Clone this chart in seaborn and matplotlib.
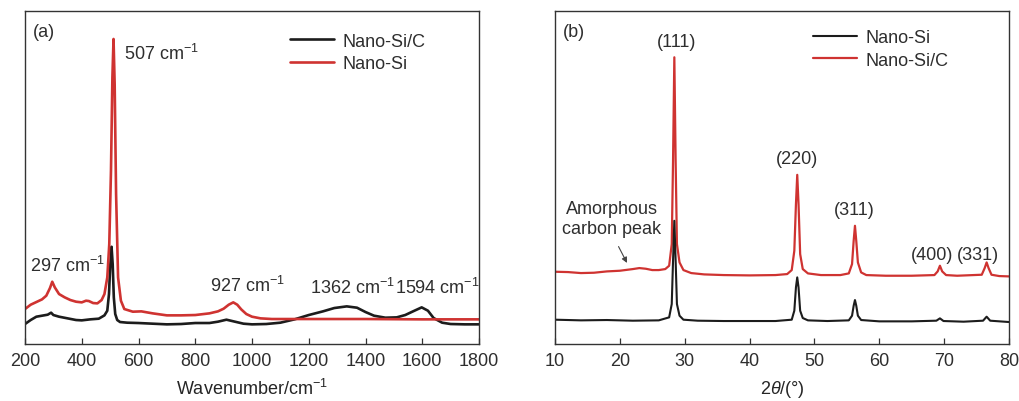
import matplotlib
matplotlib.use("Agg")
import matplotlib.pyplot as plt
import seaborn as sns

# (a) Raman spectra, arbitrary intensity units
raman_si_x = [200, 220, 240, 260, 275, 288, 296, 305, 320, 340, 360, 380, 400, 415, 425, 440, 455,
              470, 480, 490, 497, 503, 508, 512, 516, 521, 528, 538, 550, 580, 610, 650, 700, 750,
              800, 850, 880, 900, 918, 934, 948, 962, 980, 1000, 1030, 1070, 1100, 1200, 1400, 1600, 1800]
raman_si_y = [0.105, 0.118, 0.126, 0.134, 0.145, 0.168, 0.187, 0.170, 0.150, 0.140, 0.132, 0.127,
              0.125, 0.130, 0.129, 0.123, 0.122, 0.132, 0.150, 0.200, 0.300, 0.520, 0.800, 0.916,
              0.780, 0.450, 0.200, 0.130, 0.105, 0.097, 0.098, 0.092, 0.086, 0.086, 0.087, 0.092,
              0.098, 0.106, 0.118, 0.125, 0.118, 0.104, 0.090, 0.082, 0.077, 0.075, 0.075, 0.075,
              0.075, 0.074, 0.074]

raman_sic_x = [200, 220, 240, 260, 280, 292, 300, 320, 350, 380, 400, 430, 460, 480, 490, 496, 500,
               505, 509, 513, 518, 525, 535, 560, 600, 650, 700, 750, 800, 850, 880, 910, 940, 970,
               1000, 1050, 1100, 1150, 1200, 1250, 1290, 1334, 1370, 1400, 1430, 1470, 1510, 1540,
               1570, 1598, 1620, 1640, 1670, 1700, 1750, 1800]
raman_sic_y = [0.060, 0.072, 0.082, 0.085, 0.088, 0.094, 0.087, 0.082, 0.077, 0.072, 0.071, 0.074,
               0.076, 0.086, 0.100, 0.150, 0.230, 0.292, 0.240, 0.140, 0.090, 0.072, 0.066, 0.064,
               0.063, 0.061, 0.059, 0.060, 0.063, 0.063, 0.067, 0.073, 0.067, 0.061, 0.059, 0.060,
               0.064, 0.074, 0.087, 0.098, 0.108, 0.113, 0.109, 0.096, 0.085, 0.079, 0.080, 0.087,
               0.099, 0.110, 0.100, 0.078, 0.064, 0.060, 0.059, 0.059]

raman_labels = ["507 cm$^{-1}$", "297 cm$^{-1}$", "927 cm$^{-1}$", "1362 cm$^{-1}$", "1594 cm$^{-1}$"]
raman_label_x = [550, 218, 853, 1203, 1503]
raman_label_y = [0.875, 0.238, 0.176, 0.170, 0.170]

# (b) XRD patterns
xrd_sic_x = [10, 12, 14, 16, 18, 20, 22, 23, 24, 25, 26, 27, 27.6, 28.0, 28.2, 28.4, 28.6, 28.8,
             29.2, 29.8, 31, 33, 36, 40, 44, 45.8, 46.5, 46.9, 47.15, 47.35, 47.55, 47.8, 48.2, 49,
             51, 54, 55.3, 55.8, 56.05, 56.25, 56.45, 56.7, 57.2, 58, 61, 65, 68.5, 69.0, 69.35,
             69.7, 70.3, 72, 75.8, 76.25, 76.55, 76.85, 77.3, 78.5, 80]
xrd_sic_y = [0.217, 0.216, 0.213, 0.214, 0.218, 0.220, 0.225, 0.228, 0.226, 0.222, 0.222, 0.225,
             0.235, 0.300, 0.550, 0.861, 0.550, 0.300, 0.245, 0.222, 0.213, 0.209, 0.207, 0.206,
             0.207, 0.210, 0.222, 0.280, 0.420, 0.508, 0.420, 0.270, 0.225, 0.212, 0.207, 0.207,
             0.212, 0.240, 0.310, 0.355, 0.310, 0.245, 0.215, 0.207, 0.205, 0.205, 0.207, 0.218,
             0.235, 0.218, 0.207, 0.205, 0.208, 0.228, 0.245, 0.228, 0.208, 0.204, 0.203]

xrd_si_x = [10, 14, 18, 22, 26, 27.6, 28.0, 28.2, 28.4, 28.6, 28.8, 29.2, 29.8, 32, 36, 40, 44,
            46.5, 46.9, 47.15, 47.35, 47.55, 47.8, 48.2, 49, 52, 55.3, 55.8, 56.05, 56.25, 56.45,
            56.7, 57.2, 60, 65, 68.8, 69.35, 69.9, 73, 76.0, 76.55, 77.1, 80]
xrd_si_y = [0.073, 0.071, 0.072, 0.070, 0.071, 0.080, 0.120, 0.250, 0.370, 0.250, 0.120, 0.085,
            0.073, 0.070, 0.069, 0.069, 0.069, 0.073, 0.100, 0.170, 0.200, 0.170, 0.100, 0.078,
            0.071, 0.069, 0.071, 0.085, 0.115, 0.132, 0.115, 0.085, 0.072, 0.068, 0.068, 0.070,
            0.077, 0.069, 0.067, 0.070, 0.082, 0.070, 0.066]

xrd_labels = ["(111)", "(220)", "(311)", "(400)", "(331)"]
xrd_label_x = [28.76, 47.27, 56.1, 68.07, 75.27]
xrd_label_y = [0.909, 0.556, 0.404, 0.268, 0.268]

RED = "#cf3331"
BLACK = "#1c1c1c"
TXT = "#2e2e2e"

sns.set_style("ticks")
plt.rcParams["font.family"] = ["Liberation Sans", "DejaVu Sans"]
plt.rcParams["mathtext.fontset"] = "custom"
plt.rcParams["mathtext.rm"] = "Liberation Sans"
plt.rcParams["mathtext.it"] = "Liberation Sans:italic"
plt.rcParams["text.color"] = TXT

fig = plt.figure(figsize=(10.19, 4.02), dpi=100)
ax1 = fig.add_axes([25 / 1019, 57 / 402, 454 / 1019, 333 / 402])
ax2 = fig.add_axes([555 / 1019, 57 / 402, 454 / 1019, 333 / 402])

# panel (a)
sns.lineplot(x=raman_sic_x, y=raman_sic_y, ax=ax1, color=BLACK, lw=1.9, sort=False,
             estimator=None, label="Nano-Si/C")
sns.lineplot(x=raman_si_x, y=raman_si_y, ax=ax1, color=RED, lw=1.9, sort=False,
             estimator=None, label="Nano-Si")
for t, x, y in zip(raman_labels, raman_label_x, raman_label_y):
    ax1.text(x, y, t, fontsize=13, ha="left", va="center")
ax1.set_xlim(200, 1800)
ax1.set_ylim(0, 1)
ax1.set_xticks(range(200, 1801, 200))
ax1.set_xlabel("Wavenumber/cm$^{-1}$", fontsize=13, labelpad=6)
ax1.text(0.018, 0.965, "(a)", transform=ax1.transAxes, fontsize=13, va="top")

# panel (b)
sns.lineplot(x=xrd_sic_x, y=xrd_sic_y, ax=ax2, color=RED, lw=1.6, sort=False,
             estimator=None, label="Nano-Si/C")
sns.lineplot(x=xrd_si_x, y=xrd_si_y, ax=ax2, color=BLACK, lw=1.5, sort=False,
             estimator=None, label="Nano-Si")
for t, x, y in zip(xrd_labels, xrd_label_x, xrd_label_y):
    ax2.text(x, y, t, fontsize=13, ha="center", va="center")
ax2.text(18.74, 0.376, "Amorphous\ncarbon peak", fontsize=13, ha="center", va="center")
ax2.annotate("", xy=(21.3, 0.236), xytext=(19.6, 0.300),
             arrowprops=dict(arrowstyle="-|>", color="#444444", lw=0.8, mutation_scale=8))
ax2.set_xlim(10, 80)
ax2.set_ylim(0, 1)
ax2.set_xticks(range(10, 81, 10))
ax2.set_xlabel(r"2$\theta$/(°)", fontsize=13, labelpad=6)
ax2.text(0.018, 0.965, "(b)", transform=ax2.transAxes, fontsize=13, va="top")

for ax, lx, ly in [(ax1, 0.583, 0.935), (ax2, 0.568, 0.945)]:
    h, l = ax.get_legend_handles_labels()
    if ax is ax2:
        h, l = h[::-1], l[::-1]
    ax.legend(h, l, loc="upper left", bbox_to_anchor=(lx, ly), frameon=False, fontsize=13,
              handlelength=2.45, handletextpad=0.45, borderpad=0, borderaxespad=0,
              labelspacing=0.3, labelcolor=TXT)
    ax.set_yticks([])
    ax.set_ylabel("")
    ax.tick_params(axis="x", direction="in", length=4, width=0.9, color="#333333",
                   labelsize=13, labelcolor=TXT, pad=6)
    for s in ax.spines.values():
        s.set_color("#333333")
        s.set_linewidth(1.0)

fig.savefig("out.png", dpi=100)
